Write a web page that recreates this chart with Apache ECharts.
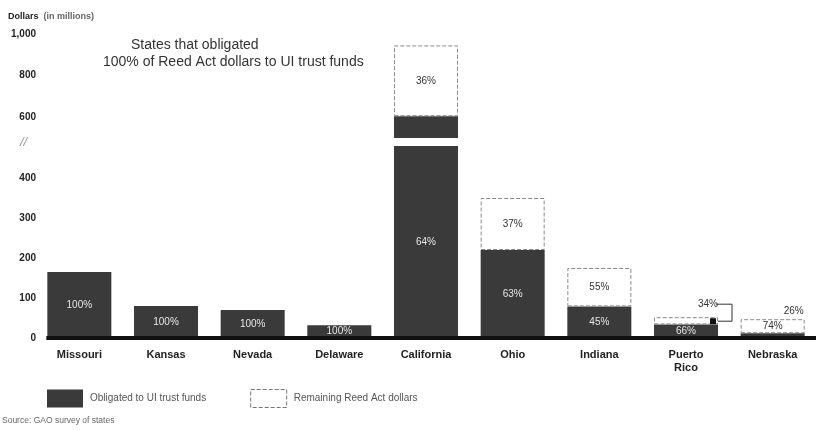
<!DOCTYPE html>
<html>
<head>
<meta charset="utf-8">
<script src="https://cdn.jsdelivr.net/npm/echarts@6/dist/echarts.min.js"></script>
<style>
html,body{margin:0;padding:0;background:#fff;}
#chart{width:816px;height:431px;}
</style>
</head>
<body>
<div id="chart"></div>
<script>
// ---- data ----
const categories = ['Missouri','Kansas','Nevada','Delaware','California','Ohio','Indiana','Puerto\nRico','Nebraska'];
const obligated  = [165, 80, 70, 32, 605, 220, 79, 34, 12];
const remaining  = [0, 0, 0, 0, 340, 130, 96, 18, 35];
const obligatedPct = ['100%','100%','100%','100%','64%','63%','45%','66%','26%'];
const remainingPct = ['','','','','36%','37%','55%','34%','74%'];
const lowerTicks = [0, 100, 200, 300, 400];
const upperTicks = [600, 800, 1000];
const LOWER_MAX = 480, UPPER_MIN = 500, UPPER_MAX = 1000;

const FONT = 'Liberation Sans, Arial, sans-serif';
const DARK = '#3a3a3a';
const nameOb = 'Obligated to UI trust funds';
const nameRe = 'Remaining Reed Act dollars';

const obLower = obligated.slice();
const reLower = remaining.map((v,i)=> (v===0 || obligated[i] > LOWER_MAX) ? '-' : v);
const obUpper = obligated.map(v => v > LOWER_MAX ? v : '-');
const reUpper = remaining.map((v,i)=> obligated[i] > LOWER_MAX ? v : '-');

const darkStyle = {color: DARK};
const whiteStyle = {color: '#ffffff', borderColor: '#8a8a8a', borderWidth: 1, borderType: 'dashed'};
const pctRich = {o: {fontFamily: FONT, fontSize: 10, color: '#333'}};

const chart = echarts.init(document.getElementById('chart'), null, {renderer:'canvas'});
const option = {
  animation: false,
  textStyle: {fontFamily: FONT},
  title: {
    left: 3, top: 3,
    text: '{b|Dollars} {n|(in millions)}',
    textStyle: {rich: {
      b: {fontFamily: FONT, fontSize: 9, fontWeight: 'bold', color: '#222'},
      n: {fontFamily: FONT, fontSize: 9, color: '#666'}
    }}
  },
  legend: {
    left: 42, top: 384,
    itemWidth: 36, itemHeight: 18, itemGap: 44,
    icon: 'rect',
    data: [
      {name: nameOb},
      {name: nameRe, itemStyle: {color: '#fff', borderColor: '#777', borderWidth: 1, borderType: 'dashed'}}
    ],
    textStyle: {fontFamily: FONT, fontSize: 10, color: '#555', padding: [0,0,0,2]},
    selectedMode: false
  },
  grid: [
    {left: 36, width: 790, top: 34, height: 104},
    {left: 36, width: 790, top: 146, height: 192}
  ],
  xAxis: [
    {gridIndex: 0, type: 'category', data: categories, show: false},
    {gridIndex: 1, type: 'category', data: categories,
     axisLine: {show: false}, axisTick: {show: false},
     axisLabel: {margin: 10, fontFamily: FONT, fontSize: 11, fontWeight: 'bold', color: '#222', lineHeight: 13, interval: 0}}
  ],
  yAxis: [
    {gridIndex: 0, type: 'value', min: UPPER_MIN, max: UPPER_MAX, interval: 100,
     splitLine: {show: false}, axisLine: {show: false}, axisTick: {show: false},
     axisLabel: {margin: 0, fontFamily: FONT, fontSize: 10, fontWeight: 'bold', color: '#222',
       formatter: v => upperTicks.indexOf(v) >= 0 ? v.toLocaleString('en-US') : ''}},
    {gridIndex: 1, type: 'value', min: 0, max: LOWER_MAX, interval: 100,
     splitLine: {show: false}, axisLine: {show: false}, axisTick: {show: false},
     axisLabel: {margin: 0, fontFamily: FONT, fontSize: 10, fontWeight: 'bold', color: '#222',
       formatter: v => lowerTicks.indexOf(v) >= 0 ? String(v) : ''}}
  ],
  series: [
    {name: nameOb, type: 'bar', xAxisIndex: 1, yAxisIndex: 1, stack: 'low', barWidth: 64,
     data: obLower, itemStyle: darkStyle,
     label: {show: true, position: 'inside', fontFamily: FONT, fontSize: 10, color: '#e6e6e6', rich: pctRich,
       formatter: p => p.dataIndex === 8 ? '{o|' + obligatedPct[p.dataIndex] + '}' : obligatedPct[p.dataIndex]},
     labelLayout: function (p) {
       if (p.dataIndex === 8) return {dx: 21, dy: -24};
       return {};
     }},
    {name: nameRe, type: 'bar', xAxisIndex: 1, yAxisIndex: 1, stack: 'low', barWidth: 64,
     data: reLower, itemStyle: whiteStyle,
     label: {show: true, position: 'inside', fontFamily: FONT, fontSize: 10, color: '#333',
       formatter: p => remainingPct[p.dataIndex]},
     labelLayout: function (p) {
       if (p.dataIndex === 7) return {dx: 22, dy: -17};
       return {};
     }},
    {name: nameOb, type: 'bar', xAxisIndex: 0, yAxisIndex: 0, stack: 'up', barWidth: 64,
     data: obUpper, itemStyle: darkStyle, label: {show: false}},
    {name: nameRe, type: 'bar', xAxisIndex: 0, yAxisIndex: 0, stack: 'up', barWidth: 64,
     data: reUpper, itemStyle: whiteStyle,
     label: {show: true, position: 'inside', fontFamily: FONT, fontSize: 10, color: '#333',
       formatter: p => remainingPct[p.dataIndex]}}
  ]
};
chart.setOption(option);

// extra drawing positioned through the library's scales
const g = [];
const x0 = chart.convertToPixel({xAxisIndex: 1}, categories[0]);
const yZero = chart.convertToPixel({yAxisIndex: 1}, 0);
g.push({type: 'line', shape: {x1: x0 - 33, y1: yZero, x2: 816, y2: yZero},
  style: {stroke: '#111', lineWidth: 4}, z: 10});
// axis break mark
const yBreak = chart.convertToPixel({yAxisIndex: 1}, LOWER_MAX);
g.push({type: 'text', left: 20, top: yBreak - 10,
  style: {text: '//', font: 'italic 13px ' + FONT, fill: '#999'}});
// Puerto Rico callout bracket
const prX = chart.convertToPixel({xAxisIndex: 1}, categories[7]);
const prTop = chart.convertToPixel({yAxisIndex: 1}, obligated[7] + remaining[7]);
g.push({type: 'polyline', shape: {points: [[prX + 30, prTop - 13], [prX + 46, prTop - 13], [prX + 46, prTop + 4], [prX + 32, prTop + 4]]},
  style: {stroke: '#333', lineWidth: 1, fill: null}, z: 10});
g.push({type: 'rect', shape: {x: prX + 24, y: prTop + 1, width: 6, height: 6}, style: {fill: '#111'}, z: 10});
// annotation title
g.push({type: 'text', x: 131, y: 38,
  style: {text: 'States that obligated', font: '14px ' + FONT, fill: '#333'}});
g.push({type: 'text', x: 103, y: 55,
  style: {text: '100% of Reed Act dollars to UI trust funds', font: '14px ' + FONT, fill: '#333'}});
// source
g.push({type: 'text', left: 2, top: 416,
  style: {text: 'Source: GAO survey of states', font: '8.5px ' + FONT, fill: '#666'}});
chart.setOption({graphic: g});
</script>
</body>
</html>
